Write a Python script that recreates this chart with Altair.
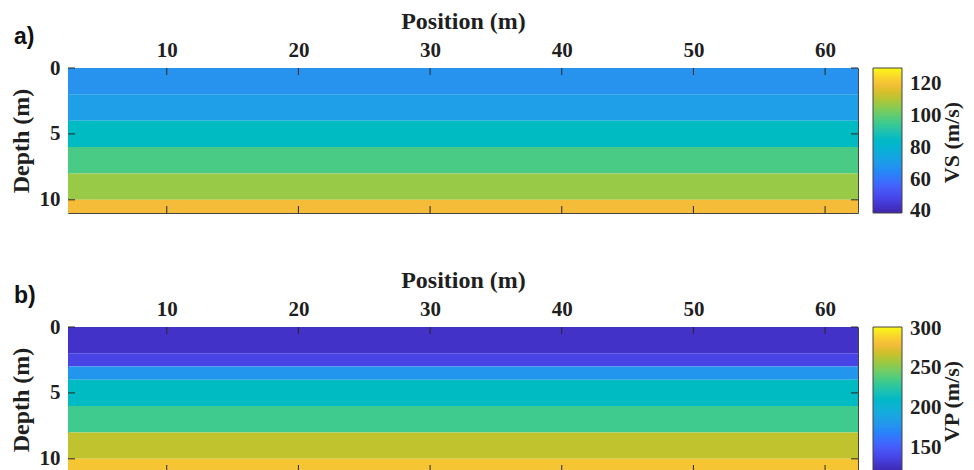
import altair as alt
import pandas as pd

# ---------------- data ----------------
position_extent = [2.5, 62.5]
position_ticks = [10, 20, 30, 40, 50, 60]
depth_extent = [0, 11]
depth_ticks = [0, 5, 10]

vs_top = [0, 2, 4, 6, 8, 10]
vs_bottom = [2, 4, 6, 8, 10, 11]
vs_values = [68, 72, 86, 97, 107, 119]
vs_cbar_ticks = [40, 60, 80, 100, 120]
vs_cbar_range = [39, 130]

vp_top = [0, 2, 3, 4, 6, 8, 10]
vp_bottom = [2, 3, 4, 6, 8, 10, 11]
vp_values = [128, 138, 180, 213, 233, 266, 284]
vp_cbar_ticks = [150, 200, 250, 300]
vp_cbar_range = [120, 302]

# parula colormap stops (fraction along the map, colour)
parula_t = [0, 0.0625, 0.125, 0.1875, 0.25, 0.3125, 0.375, 0.4375, 0.5,
            0.5625, 0.625, 0.6875, 0.75, 0.8125, 0.875, 0.9375, 1.0]
parula_hex = ["#3e26a8", "#4537d5", "#484cf0", "#4562fc", "#337afd", "#2b91ef",
              "#22a2e4", "#12b1d6", "#01b9c6", "#23c1af", "#42ca8b", "#6bcd69",
              "#9ac945", "#c8c129", "#f3ba39", "#f9d62d", "#f9fb15"]

W, H = 790, 145
SERIF = "Liberation Serif"
INK = "#1f1f1f"
TICK = 7


def panel(top, bottom, values, cticks, crange, ctitle, tag):
    n = len(top)
    df = pd.DataFrame({
        "top": top, "bottom": bottom, "v": values,
        "x0": [position_extent[0]] * n, "x1": [position_extent[1]] * n,
    })
    lo, hi = crange
    cdomain = [lo + (hi - lo) * t for t in parula_t]
    xscale = alt.Scale(domain=position_extent, nice=False, zero=False)
    yscale = alt.Scale(domain=depth_extent, reverse=True, nice=False, zero=False)
    xaxis = alt.Axis(
        orient="top", title="Position (m)", values=position_ticks,
        ticks=False, domain=False, grid=False, labelPadding=8,
        labelFont=SERIF, labelFontWeight="bold", labelFontSize=21, labelColor=INK,
        titleFont=SERIF, titleFontWeight="bold", titleFontSize=24, titleColor=INK,
        titlePadding=6)
    yaxis = alt.Axis(
        orient="left", title="Depth (m)", values=depth_ticks,
        ticks=False, domain=False, grid=False, labelPadding=8,
        labelFont=SERIF, labelFontWeight="bold", labelFontSize=21, labelColor=INK,
        titleFont=SERIF, titleFontWeight="bold", titleFontSize=24, titleColor=INK,
        titlePadding=6)

    rects = alt.Chart(df).mark_rect(stroke=None).encode(
        x=alt.X("x0:Q", scale=xscale, axis=xaxis),
        x2="x1:Q",
        y=alt.Y("top:Q", scale=yscale, axis=yaxis),
        y2="bottom:Q",
        color=alt.Color("v:Q", scale=alt.Scale(domain=cdomain, range=parula_hex, nice=False),
                        legend=alt.Legend(
                            title=None, type="gradient", direction="vertical", orient="right",
                            values=cticks, gradientLength=H, gradientThickness=29,
                            gradientStrokeColor="#444444", gradientStrokeWidth=1,
                            labelFont=SERIF, labelFontWeight="bold", labelFontSize=21,
                            labelColor=INK, labelOffset=8, labelOverlap=False,
                            offset=15, padding=0)),
    )

    xt = pd.DataFrame({"p": position_ticks})
    yt = pd.DataFrame({"d": depth_ticks})
    tick_style = dict(color="#262626", strokeWidth=1)
    xt_top = alt.Chart(xt).mark_rule(**tick_style).encode(
        x=alt.X("p:Q", scale=xscale, axis=xaxis), y=alt.value(0), y2=alt.value(TICK))
    xt_bot = alt.Chart(xt).mark_rule(**tick_style).encode(
        x=alt.X("p:Q", scale=xscale, axis=xaxis), y=alt.value(H - TICK), y2=alt.value(H))
    yt_left = alt.Chart(yt).mark_rule(**tick_style).encode(
        y=alt.Y("d:Q", scale=yscale, axis=yaxis), x=alt.value(0), x2=alt.value(TICK))
    yt_right = alt.Chart(yt).mark_rule(**tick_style).encode(
        y=alt.Y("d:Q", scale=yscale, axis=yaxis), x=alt.value(W - TICK), x2=alt.value(W))

    label = alt.Chart(pd.DataFrame({"t": [tag]})).mark_text(
        font="Liberation Sans", fontWeight="bold", fontSize=23, color="#111111",
        align="left", baseline="middle").encode(
        text="t:N", x=alt.value(-54), y=alt.value(-31))

    cbar_title = alt.Chart(pd.DataFrame({"t": [ctitle]})).mark_text(
        font=SERIF, fontWeight="bold", fontSize=22, color=INK, angle=270,
        align="center", baseline="middle").encode(
        text="t:N", x=alt.value(W + 94), y=alt.value(H / 2 + 2))

    return alt.layer(rects, xt_top, xt_bot, yt_left, yt_right, label, cbar_title).properties(
        width=W, height=H)


top_panel = panel(vs_top, vs_bottom, vs_values, vs_cbar_ticks, vs_cbar_range, "VS (m/s)", "a)")
bottom_panel = panel(vp_top, vp_bottom, vp_values, vp_cbar_ticks, vp_cbar_range, "VP (m/s)", "b)")

chart = alt.vconcat(top_panel, bottom_panel, spacing=44).resolve_scale(
    color="independent").configure_view(stroke="#444444", strokeWidth=1).properties(
    background="white", padding={"left": 0, "right": 0, "top": 0, "bottom": 0})

chart.save("out.html", embed_options={"renderer": "svg", "actions": False})
